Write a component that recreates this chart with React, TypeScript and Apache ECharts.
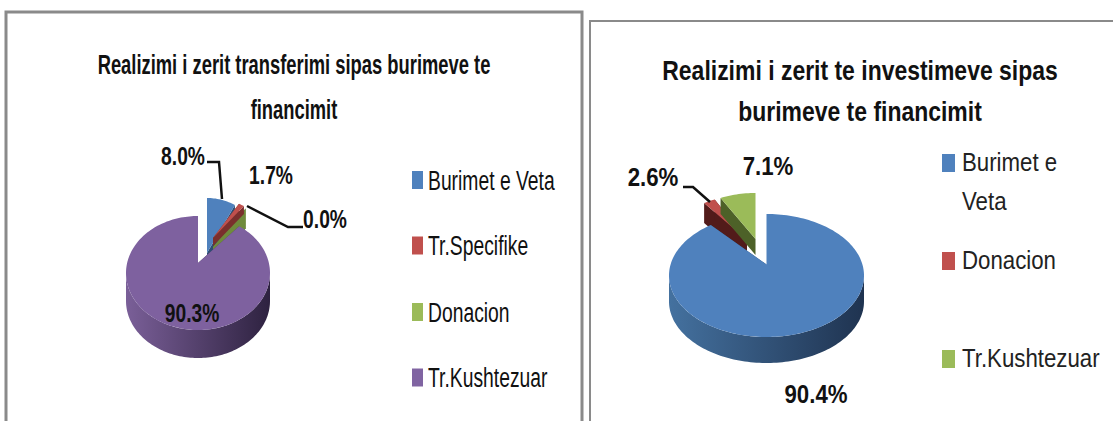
import React, { useEffect, useRef } from "react";
import * as echarts from "echarts";

const leftTitle = "Realizimi i zerit transferimi sipas burimeve te\nfinancimit";
const rightTitle = "Realizimi i zerit te investimeve sipas\nburimeve te financimit";
const leftCategories = ["Burimet e Veta", "Tr.Specifike", "Donacion", "Tr.Kushtezuar"];
const leftValues = [8.0, 1.7, 0.0, 90.3];
const rightCategories = ["Burimet e\nVeta", "Donacion", "Tr.Kushtezuar"];
const rightValues = [90.4, 2.6, 7.1];

const FONT = "'Liberation Sans', sans-serif";
const NAVY = "#4f81bd", RED = "#c0504d", GREEN = "#9bbb59", PURPLE = "#8064a2";

type Geo = {
  cx: number; cy: number; rx: number; ry: number; apexDy: number; depth: number; z: number;
  color: string; face: string; sideFrom: string; sideTo: string;
  label: [number, number]; leader?: [number, number][];
};

const leftGeo: Geo[] = [
  { cx: 207, cy: 255, rx: 58, ry: 57, apexDy: -2, depth: 15, z: 1, color: NAVY, face: "#2d4d73", sideFrom: "#3a5f8c", sideTo: "#1f3350", label: [183, 156], leader: [[207, 162], [219, 162], [222, 199]] },
  { cx: 213, cy: 238, rx: 54, ry: 39, apexDy: 0, depth: 8, z: 3, color: RED, face: "#7a2f2d", sideFrom: "#8c3a38", sideTo: "#5a2220", label: [271, 175] },
  { cx: 213, cy: 247, rx: 57, ry: 47, apexDy: 0, depth: 20, z: 2, color: GREEN, face: "#6f8a3c", sideFrom: "#6f8a3c", sideTo: "#4d6128", label: [325, 219], leader: [[247, 206], [288, 227], [303, 227]] },
  { cx: 198, cy: 273, rx: 72, ry: 57, apexDy: -10, depth: 28, z: 4, color: "#7e619f", face: "#4a3763", sideFrom: "#7a5f98", sideTo: "#2e2240", label: [192, 313] },
];

const rightGeo: Geo[] = [
  { cx: 766.5, cy: 275.5, rx: 97.5, ry: 61.5, apexDy: -11, depth: 26, z: 3, color: NAVY, face: "#2d4d73", sideFrom: "#44719f", sideTo: "#1f3350", label: [816, 395] },
  { cx: 747, cy: 240, rx: 75, ry: 45, apexDy: 0, depth: 20, z: 1, color: RED, face: "#521b1a", sideFrom: "#8c3a38", sideTo: "#521b1a", label: [653, 178], leader: [[683, 187], [693, 187], [710, 202]] },
  { cx: 755.5, cy: 243, rx: 81, ry: 50, apexDy: -4, depth: 16, z: 2, color: GREEN, face: "#4d6128", sideFrom: "#6f8a3c", sideTo: "#4d6128", label: [768, 167] },
];

const leftLegendColors = [NAVY, RED, GREEN, PURPLE];
const rightLegendColors = [NAVY, RED, GREEN];
const leftLegendY = [180, 245.5, 312, 377.5];
const rightLegendY = [163, 261, 359];

function makeRender(values: number[], geos: Geo[], labelSize: number, labelScale: number) {
  const total = values.reduce((a, b) => a + b, 0);
  return (_: any, api: any) => {
    const i = api.value(0) as number;
    const g = geos[i];
    const start = values.slice(0, i).reduce((a, b) => a + b, 0);
    const a0 = (start / total) * Math.PI * 2;
    const a1 = ((start + api.value(1)) / total) * Math.PI * 2;
    const pt = (a: number, dy = 0): number[] => [g.cx + g.rx * Math.sin(a), g.cy - g.ry * Math.cos(a) + dy];
    const apex = [g.cx, g.cy + g.apexDy];
    const apexLow = [apex[0], apex[1] + g.depth];
    const arc = (from: number, to: number, dy = 0) => {
      const n = Math.max(2, Math.ceil(Math.abs(to - from) / 0.03));
      const out: number[][] = [];
      for (let k = 0; k <= n; k++) out.push(pt(from + ((to - from) * k) / n, dy));
      return out;
    };
    const children: any[] = [];
    [a0, a1].forEach((a) => {
      children.push({
        type: "polygon", z2: g.z * 10,
        shape: { points: [apex, pt(a), pt(a, g.depth), apexLow] },
        style: { fill: g.face },
      });
    });
    const from = Math.max(a0, Math.PI / 2), to = Math.min(a1, Math.PI * 1.5);
    if (to > from) {
      children.push({
        type: "polygon", z2: g.z * 10 + 1,
        shape: { points: [...arc(from, to), ...arc(to, from, g.depth)] },
        style: {
          fill: new echarts.graphic.LinearGradient(0, 0, 1, 0, [
            { offset: 0, color: g.sideFrom },
            { offset: 1, color: g.sideTo },
          ]),
        },
      });
    }
    if (a1 > a0) {
      children.push({
        type: "polygon", z2: g.z * 10 + 2,
        shape: { points: [apex, ...arc(a0, a1)] },
        style: { fill: g.color },
      });
    }
    if (g.leader) {
      children.push({
        type: "polyline", z2: 100,
        shape: { points: g.leader },
        style: { stroke: "#111", lineWidth: 2.5, fill: "none" },
      });
    }
    children.push({
      type: "text", z2: 110, x: g.label[0], y: g.label[1], scaleX: labelScale,
      style: {
        text: api.value(1).toFixed(1) + "%",
        fontFamily: FONT, fontSize: labelSize, fontWeight: "bold", fill: "#111",
        align: "center", verticalAlign: "middle",
      },
    });
    return { type: "group", children };
  };
}

function legendGraphics(names: string[], colors: string[], ys: number[], sx: number, sw: number, sh: number, tx: number, size: number, scale: number, fill: string) {
  const out: any[] = [];
  names.forEach((name, i) => {
    out.push({ type: "rect", x: sx, y: ys[i] - sh / 2, shape: { width: sw, height: sh }, style: { fill: colors[i] } });
    out.push({
      type: "text", x: tx, y: ys[i] - 19.5, scaleX: scale,
      style: { text: name, fontFamily: FONT, fontSize: size, lineHeight: 39, fill },
    });
  });
  return out;
}

export default function App() {
  const ref = useRef<HTMLDivElement>(null);
  useEffect(() => {
    const chart = echarts.init(ref.current!, undefined, { renderer: "svg" });
    chart.setOption({
      animation: false,
      backgroundColor: "#fff",
      graphic: [
        { type: "polyline", shape: { points: [[6, 421], [6, 12], [582, 12], [582, 421]] }, style: { stroke: "#8a8a8a", lineWidth: 3, fill: "none" } },
        { type: "polyline", shape: { points: [[590, 421], [590, 21], [1113, 21]] }, style: { stroke: "#8a8a8a", lineWidth: 2, fill: "none" } },
        {
          type: "text", x: 294, y: 87.5, scaleX: 0.68,
          style: { text: leftTitle, fontFamily: FONT, fontSize: 27, fontWeight: "bold", lineHeight: 45, fill: "#111", align: "center", verticalAlign: "middle" },
        },
        {
          type: "text", x: 860, y: 90.5, scaleX: 0.82,
          style: { text: rightTitle, fontFamily: FONT, fontSize: 28, fontWeight: "bold", lineHeight: 41, fill: "#111", align: "center", verticalAlign: "middle" },
        },
        ...legendGraphics(leftCategories, leftLegendColors, leftLegendY, 412, 11, 18, 428, 28, 0.69, "#111"),
        ...legendGraphics(rightCategories, rightLegendColors, rightLegendY, 942, 13, 18, 962, 25, 0.89, "#222"),
      ],
      series: [
        { type: "custom", coordinateSystem: "none", data: leftValues.map((v, i) => [i, v]), renderItem: makeRender(leftValues, leftGeo, 26, 0.74) },
        { type: "custom", coordinateSystem: "none", data: rightValues.map((v, i) => [i, v]), renderItem: makeRender(rightValues, rightGeo, 25, 0.89) },
      ],
    });
    return () => chart.dispose();
  }, []);
  return <div ref={ref} style={{ position: "fixed", left: 0, top: 0, width: 1113, height: 421 }} />;
}
